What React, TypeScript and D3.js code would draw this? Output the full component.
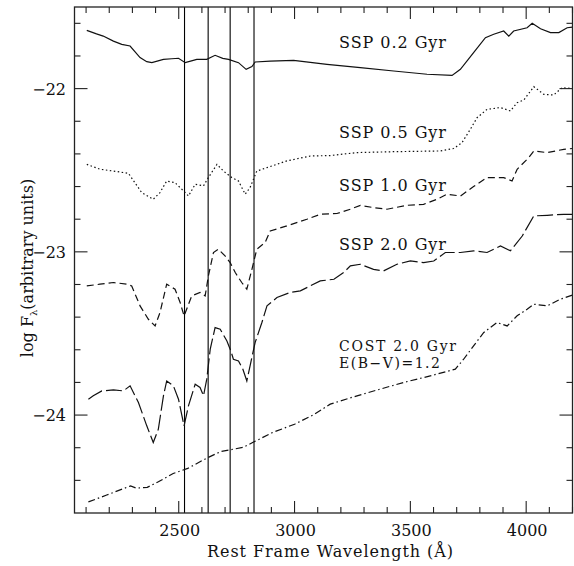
import { useRef, useEffect } from 'react';
import * as d3 from 'd3';

type Pt = [number, number];

// spectra: [rest wavelength (A), log F_lambda]
const ssp02: Pt[] = [
  [2103, -21.643], [2145, -21.665], [2174, -21.678], [2218, -21.709], [2254, -21.729], [2290, -21.739],
  [2333, -21.81], [2362, -21.835], [2384, -21.841], [2434, -21.821], [2470, -21.817], [2499, -21.814],
  [2528, -21.841], [2555, -21.83], [2578, -21.821], [2621, -21.821], [2657, -21.796], [2690, -21.815],
  [2715, -21.821], [2758, -21.841], [2791, -21.882], [2816, -21.865], [2830, -21.837], [2895, -21.831],
  [2996, -21.827], [3140, -21.851], [3284, -21.871], [3428, -21.892], [3572, -21.912], [3680, -21.919],
  [3716, -21.882], [3773, -21.78], [3824, -21.688], [3860, -21.667], [3903, -21.647], [3925, -21.678],
  [3946, -21.647], [4004, -21.627], [4026, -21.6], [4062, -21.633], [4105, -21.657], [4141, -21.657],
  [4177, -21.627], [4200, -21.623],
];

const ssp05: Pt[] = [
  [2103, -22.464], [2160, -22.494], [2218, -22.505], [2283, -22.519], [2340, -22.637], [2390, -22.678],
  [2419, -22.637], [2448, -22.566], [2484, -22.576], [2528, -22.637], [2542, -22.658], [2571, -22.586],
  [2607, -22.596], [2628, -22.545], [2665, -22.464], [2693, -22.505], [2729, -22.545], [2758, -22.566],
  [2787, -22.647], [2808, -22.606], [2837, -22.505], [2881, -22.484], [2967, -22.443], [3068, -22.413],
  [3154, -22.41], [3270, -22.392], [3442, -22.386], [3630, -22.382], [3687, -22.367], [3723, -22.331],
  [3759, -22.249], [3788, -22.178], [3831, -22.127], [3889, -22.116], [3932, -22.137], [3961, -22.086],
  [3990, -22.07], [4033, -21.988], [4076, -22.035], [4119, -22.039], [4155, -21.994], [4200, -22.0],
];

const ssp10: Pt[] = [
  [2103, -23.209], [2160, -23.198], [2218, -23.188], [2276, -23.198], [2297, -23.209], [2333, -23.331],
  [2369, -23.413], [2398, -23.454], [2419, -23.372], [2448, -23.198], [2484, -23.229], [2506, -23.31],
  [2523, -23.393], [2556, -23.27], [2592, -23.249], [2614, -23.27], [2628, -23.148], [2650, -23.004],
  [2671, -22.984], [2700, -23.025], [2722, -23.066], [2744, -23.127], [2772, -23.188], [2794, -23.229],
  [2816, -23.107], [2837, -22.984], [2873, -22.943], [2895, -22.872], [2967, -22.841], [3053, -22.8],
  [3111, -22.77], [3183, -22.765], [3241, -22.739], [3284, -22.715], [3341, -22.729], [3399, -22.739],
  [3486, -22.715], [3557, -22.709], [3615, -22.678], [3658, -22.647], [3716, -22.658], [3773, -22.6],
  [3831, -22.545], [3903, -22.545], [3939, -22.566], [3961, -22.494], [4011, -22.423], [4033, -22.382],
  [4091, -22.392], [4162, -22.372], [4200, -22.367],
];

const ssp20: Pt[] = [
  [2110, -23.903], [2131, -23.882], [2168, -23.852], [2218, -23.846], [2261, -23.852], [2290, -23.821],
  [2326, -23.923], [2362, -24.066], [2390, -24.168], [2412, -24.086], [2434, -23.882], [2448, -23.791],
  [2477, -23.821], [2499, -23.903], [2523, -24.066], [2542, -23.944], [2571, -23.811], [2592, -23.831],
  [2607, -23.882], [2621, -23.78], [2636, -23.596], [2657, -23.464], [2679, -23.474], [2708, -23.546],
  [2725, -23.607], [2736, -23.658], [2758, -23.668], [2777, -23.719], [2794, -23.791], [2811, -23.678],
  [2830, -23.555], [2859, -23.433], [2881, -23.331], [2924, -23.28], [2981, -23.249], [3025, -23.239],
  [3111, -23.178], [3170, -23.168], [3212, -23.127], [3241, -23.086], [3284, -23.076], [3341, -23.107],
  [3384, -23.117], [3442, -23.076], [3500, -23.056], [3557, -23.066], [3601, -23.056], [3651, -23.004],
  [3716, -23.004], [3773, -22.994], [3831, -23.004], [3889, -22.964], [3932, -22.994], [3983, -22.903],
  [4033, -22.78], [4091, -22.776], [4162, -22.77], [4200, -22.77],
];

const cost20: Pt[] = [
  [2110, -24.532], [2189, -24.49], [2292, -24.434], [2317, -24.448], [2364, -24.443], [2412, -24.409],
  [2476, -24.358], [2539, -24.327], [2618, -24.266], [2682, -24.223], [2778, -24.198], [2825, -24.164],
  [2905, -24.107], [3000, -24.056], [3080, -24.0], [3154, -23.933], [3270, -23.882], [3370, -23.841],
  [3471, -23.8], [3586, -23.76], [3694, -23.719], [3730, -23.658], [3773, -23.576], [3817, -23.494],
  [3874, -23.433], [3918, -23.454], [3961, -23.392], [4004, -23.352], [4033, -23.321], [4091, -23.331],
  [4148, -23.29], [4200, -23.265],
];

const seriesList = [
  { data: ssp02, dash: '' },
  { data: ssp05, dash: '1.5,2.5' },
  { data: ssp10, dash: '7,4' },
  { data: ssp20, dash: '16,4' },
  { data: cost20, dash: '7,3,1.5,3' },
];

// label text, baseline (in log F units), width
const curveLabels: [string, number, number][] = [
  ['SSP 0.2 Gyr', -21.751, 107],
  ['SSP 0.5 Gyr', -22.303, 107],
  ['SSP 1.0 Gyr', -22.627, 107],
  ['SSP 2.0 Gyr', -22.989, 107],
  ['COST 2.0 Gyr', -23.606, 117],
  ['E(B\u2212V)=1.2', -23.712, 101],
];

const indexLines = [2525, 2627, 2722, 2825];
const xMajor = [2500, 3000, 3500, 4000];
const xMinor = d3.range(2100, 4201, 100);
const yMajor = [-24, -23, -22];
const yMinor = d3.range(-122, -107).map((i) => i * 0.2);

const W = 574;
const H = 566;
const frame = { left: 74.5, right: 572.5, top: 7, bottom: 513 };
const font = '"DejaVu Serif", serif';

export default function App() {
  const svgRef = useRef<SVGSVGElement>(null);

  useEffect(() => {
    if (!svgRef.current) return;
    const svg = d3.select(svgRef.current);
    svg.selectAll('*').remove();

    const x = d3.scaleLinear().domain([2050, 4200]).range([frame.left, frame.right]);
    const y = d3.scaleLinear().domain([-24.6, -21.5]).range([frame.bottom, frame.top]);

    const g = svg.append('g');
    const ink = '#222';

    // index windows
    for (const l of indexLines) {
      g.append('line')
        .attr('x1', x(l)).attr('x2', x(l))
        .attr('y1', frame.top).attr('y2', frame.bottom)
        .attr('stroke', '#000').attr('stroke-width', 1.1);
    }

    const line = d3.line<Pt>().x((d) => x(d[0])).y((d) => y(d[1]));
    for (const s of seriesList) {
      g.append('path')
        .datum(s.data)
        .attr('fill', 'none')
        .attr('stroke', '#111')
        .attr('stroke-width', 1.2)
        .attr('stroke-dasharray', s.dash)
        .attr('d', line);
    }

    // frame
    g.append('rect')
      .attr('x', frame.left).attr('y', frame.top)
      .attr('width', frame.right - frame.left).attr('height', frame.bottom - frame.top)
      .attr('fill', 'none').attr('stroke', ink).attr('stroke-width', 1.3);

    // inward ticks on all four sides
    const tick = (x1: number, y1: number, x2: number, y2: number) =>
      g.append('line').attr('x1', x1).attr('y1', y1).attr('x2', x2).attr('y2', y2)
        .attr('stroke', ink).attr('stroke-width', 1.1);

    for (const v of xMinor) {
      const len = xMajor.includes(v) ? 12 : 6;
      tick(x(v), frame.bottom, x(v), frame.bottom - len);
      tick(x(v), frame.top, x(v), frame.top + len);
    }
    for (const v of yMinor) {
      const len = yMajor.some((m) => Math.abs(m - v) < 1e-6) ? 13 : 6;
      tick(frame.left, y(v), frame.left + len, y(v));
      tick(frame.right, y(v), frame.right - len, y(v));
    }

    const text = (t: string, px: number, py: number, anchor: string, size = 16) =>
      g.append('text')
        .attr('x', px).attr('y', py)
        .attr('text-anchor', anchor)
        .attr('font-family', font)
        .attr('font-size', size)
        .attr('fill', '#111')
        .text(t);

    for (const v of xMajor) text(String(v), x(v) + 1, 536, 'middle');
    for (const v of yMajor) text(String(v).replace('-', '\u2212'), 66, y(v) + 6, 'end');

    text('Rest Frame Wavelength (\u00c5)', 330, 557, 'middle').attr('textLength', 246);

    const yl = g.append('text')
      .attr('transform', `translate(33,268) rotate(-90)`)
      .attr('text-anchor', 'middle')
      .attr('font-family', font)
      .attr('font-size', 16)
      .attr('fill', '#111');
    yl.append('tspan').text('log F');
    yl.append('tspan').attr('font-size', 10).attr('dy', 4).text('\u03bb');
    yl.append('tspan').attr('dy', -4).text('(arbitrary units)');

    curveLabels.forEach(([t, v, w], i) => {
      const size = i >= 4 ? 14 : 16;
      text(t, 339, y(v), 'start', size).attr('textLength', w);
    });
  }, []);

  return (
    <svg
      ref={svgRef}
      width={W}
      height={H}
      viewBox={`0 0 ${W} ${H}`}
      style={{ position: 'absolute', left: 0, top: 0, background: '#fff' }}
    />
  );
}
